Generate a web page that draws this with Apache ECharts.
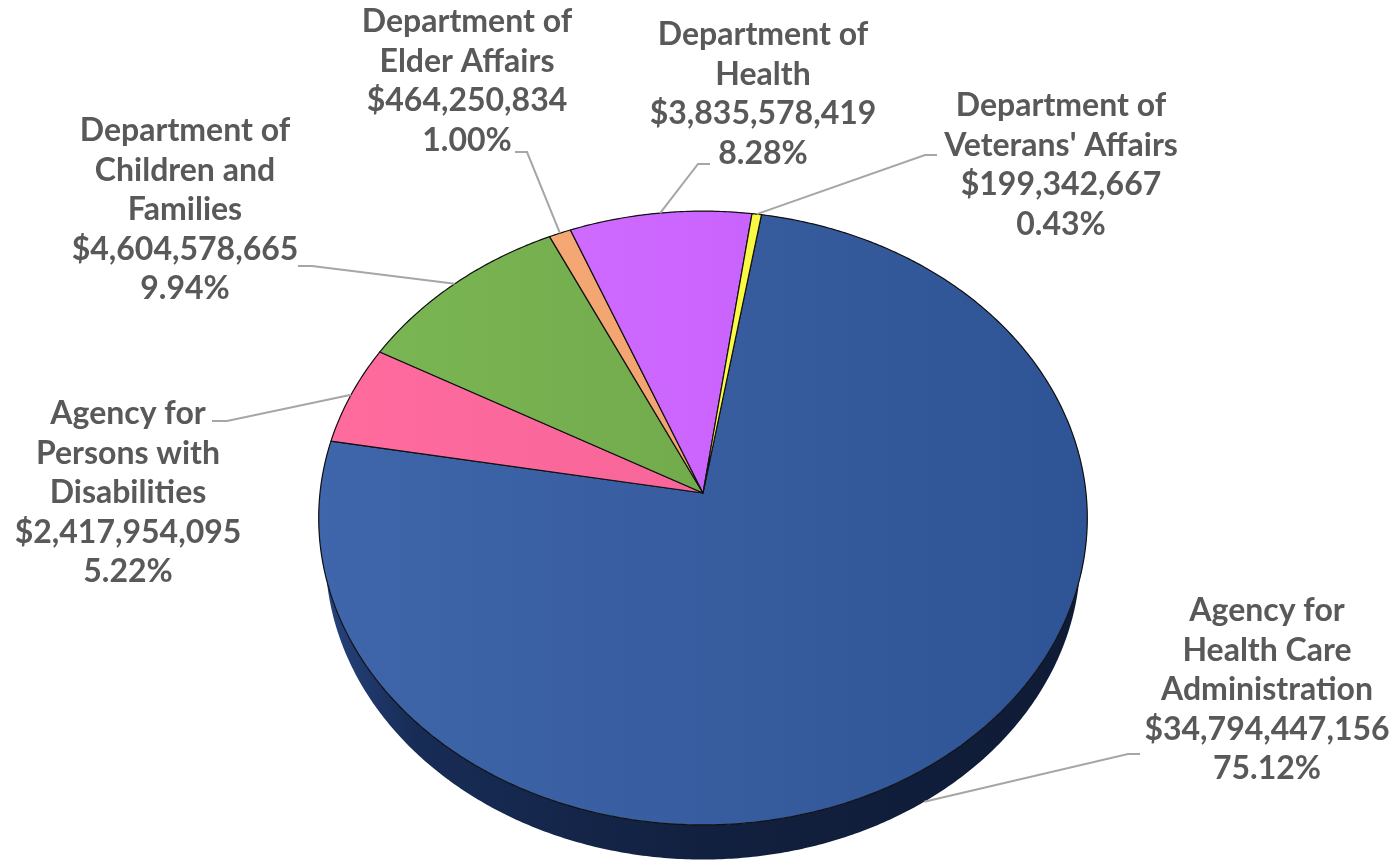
<!DOCTYPE html>
<html><head><meta charset="utf-8">
<script src="https://cdn.jsdelivr.net/npm/echarts@6/dist/echarts.min.js"></script>
<style>html,body{margin:0;padding:0;background:#fff}#main{width:1397px;height:861px}</style>
</head><body><div id="main"></div>
<script>
// ---------- data ----------
const categories = [
  'Agency for Health Care Administration',
  'Agency for Persons with Disabilities',
  'Department of Children and Families',
  'Department of Elder Affairs',
  'Department of Health',
  "Department of Veterans' Affairs"
];
const labelNames = [
  'Agency for\nHealth Care\nAdministration',
  'Agency for\nPersons with\nDisabilities',
  'Department of\nChildren and\nFamilies',
  'Department of\nElder Affairs',
  'Department of\nHealth',
  "Department of\nVeterans' Affairs"
];
const values = [34794447156, 2417954095, 4604578665, 464250834, 3835578419, 199342667];

// ---------- style / layout ----------
const topColors = [
  ['#3f66aa', '#2f5495'],
  ['#ff6b9d', '#f7659a'],
  ['#7ab553', '#72ab4c'],
  ['#f5a874', '#f2a26e'],
  ['#cf6aff', '#c963fd'],
  ['#ffff4a', '#f8f840']
];
const sideColors = [
  [0, '#27447f'], [0.12, '#172c56'], [0.5, '#12203f'], [1, '#0f1b36']
];
const startAngleDeg = 9.5;
const view = { cx: 703, cy: 493, b: 383, sinPhi: 0.796, D: 7.42, h: 0.165 };
const labelPos = [[1267, 690], [128, 493], [185, 210], [467, 81], [763, 94], [1061, 165]];
const leaderElbow = [[1128, 754], [227, 421], [312, 266], [527, 152], [698, 164], [925, 155]];
const leaderEnd = [[1140, 754], [212, 421], [298, 266], [515, 152], [710, 164], [937, 155]];

const total = values.reduce((a, b) => a + b, 0);
const cum = [];
values.reduce((acc, v, i) => { cum[i] = acc; return acc + v; }, 0);

const cosPhi = Math.sqrt(1 - view.sinPhi * view.sinPhi);
const f = view.b * view.D;
function proj(thetaDeg, level, r) {
  const t = thetaDeg * Math.PI / 180;
  const rr = r === undefined ? 1 : r;
  const u = Math.sin(t) * rr, w = Math.cos(t) * rr;
  const Y = -view.h * level;
  const yc = Y * cosPhi + w * view.sinPhi;
  const zc = view.D + w * cosPhi - Y * view.sinPhi;
  return [view.cx + f * u / zc, view.cy - f * yc / zc];
}
function arc(a0, a1, level) {
  const n = Math.max(2, Math.ceil(Math.abs(a1 - a0) / 0.5));
  const pts = [];
  for (let k = 0; k <= n; k++) pts.push(proj(a0 + (a1 - a0) * k / n, level));
  return pts;
}
function fmtMoney(v) { return '$' + v.toLocaleString('en-US'); }

function renderItem(params, api) {
  const i = params.dataIndex;
  const v = api.value(0);
  const a0 = startAngleDeg + cum[i] / total * 360;
  const a1 = a0 + v / total * 360;
  const mid = (a0 + a1) / 2;
  const topArc = arc(a0, a1, 0);
  const botArc = arc(a0, a1, 1).reverse();
  const apex = proj(0, 0, 0);
  const children = [];
  children.push({
    type: 'polygon', z2: 1,
    shape: { points: topArc.concat(botArc) },
    style: {
      fill: { type: 'linear', x: 322, y: 0, x2: 1087, y2: 0, global: true,
        colorStops: sideColors.map(s => ({ offset: s[0], color: s[1] })) },
      stroke: null
    }
  });
  children.push({
    type: 'polygon', z2: 5,
    shape: { points: [apex].concat(topArc) },
    style: {
      fill: { type: 'linear', x: 0, y: 0, x2: 1, y2: 0,
        colorStops: [{ offset: 0, color: topColors[i][0] }, { offset: 1, color: topColors[i][1] }] },
      stroke: '#111', lineWidth: 1.2, lineJoin: 'round'
    }
  });
  const front = Math.cos(mid * Math.PI / 180) < -0.5;
  const edge = proj(front ? mid + 2 : mid, front ? 1 : 0);
  children.push({
    type: 'polyline', z2: 8,
    shape: { points: [edge, leaderElbow[i], leaderEnd[i]] },
    style: { stroke: '#a6a6a6', lineWidth: 2, fill: null }
  });
  const pct = (v / total * 100).toFixed(2) + '%';
  children.push({
    type: 'text', z2: 10,
    style: {
      text: labelNames[i] + '\n' + fmtMoney(v) + '\n' + pct,
      x: labelPos[i][0], y: labelPos[i][1],
      align: 'center', verticalAlign: 'middle',
      fill: '#595959', fontFamily: 'Lato', fontWeight: 'bold', fontSize: 32, lineHeight: 39.5
    }
  });
  return { type: 'group', children };
}

const chart = echarts.init(document.getElementById('main'), null, { renderer: 'canvas' });
chart.setOption({
  animation: false,
  backgroundColor: '#ffffff',
  series: [{
    type: 'custom',
    coordinateSystem: 'none',
    silent: true,
    renderItem: renderItem,
    data: values.map((v, i) => ({ name: categories[i], value: [v] }))
  }]
});
</script>
</body></html>
